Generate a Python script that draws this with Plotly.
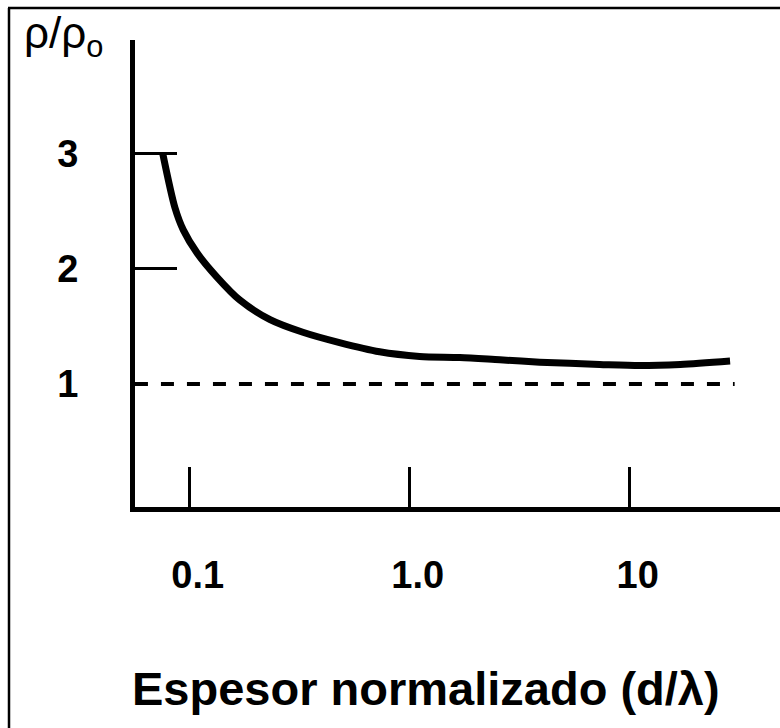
import plotly.graph_objects as go

# Normalised film thickness d/lambda and resistivity ratio rho/rho_o
thickness = [0.0755, 0.0858, 0.0935, 0.108, 0.133, 0.169, 0.232, 0.327,
             0.48, 0.73, 1.11, 1.69, 2.57, 3.9, 7.3, 11.1, 17.0, 28.6]
rho_ratio = [3.0, 2.53, 2.34, 2.14, 1.93, 1.73, 1.56, 1.45,
             1.36, 1.28, 1.24, 1.23, 1.21, 1.19, 1.17, 1.16, 1.17, 1.2]

# Bulk reference level
bulk_x = [0.0564, 30.0]
bulk_y = [1, 1]

x_tickvals = [0.1, 1, 10]
x_ticktext = ["0.1", "1.0", "10"]
y_tickvals = [1, 2, 3]
y_ticktext = ["1", "2", "3"]
y_tickmarks = [2, 3]

x_title = "Espesor normalizado (d/λ)"
y_title = "ρ/ρ<sub>o</sub>"

W, H = 780, 728
L, R, T, B = 135, 0, 40, 221
FONT = "Liberation Sans, Arial, sans-serif"

fig = go.Figure()
fig.add_trace(go.Scatter(
    x=bulk_x, y=bulk_y, mode="lines",
    line=dict(color="black", width=4, dash="13px,13px"),
    hoverinfo="skip", showlegend=False))
fig.add_trace(go.Scatter(
    x=thickness, y=rho_ratio, mode="lines",
    line=dict(color="black", width=7, shape="spline", smoothing=0.8),
    showlegend=False))

fig.update_xaxes(
    type="log", range=[-1.2485, 1.6833],
    tickvals=x_tickvals, ticktext=x_ticktext,
    ticks="inside", ticklen=40, tickwidth=3, tickcolor="black",
    showline=True, linecolor="black", linewidth=5,
    showgrid=False, zeroline=False,
    ticklabelstandoff=30, ticklabelshift=8,
    tickfont=dict(family=FONT, size=38, color="black", weight="bold"))
fig.update_yaxes(
    range=[-0.0696, 3.991],
    tickvals=y_tickvals, ticktext=y_ticktext, ticks="",
    minor=dict(tickmode="array", tickvals=y_tickmarks, ticks="inside",
               ticklen=42, tickwidth=3, tickcolor="black", showgrid=False),
    showline=True, linecolor="black", linewidth=5,
    showgrid=False, zeroline=False,
    ticklabelstandoff=44,
    tickfont=dict(family=FONT, size=38, color="black", weight="bold"))

pw = W - L - R
ph = H - T - B

def px_x(p):
    return (p - L) / pw

def px_y(p):
    return (H - B - p) / ph

fig.add_annotation(
    text=x_title, xref="paper", yref="paper",
    x=px_x(426), y=px_y(688), xanchor="center", yanchor="middle",
    showarrow=False,
    font=dict(family=FONT, size=47, color="black", weight="bold"))
fig.add_annotation(
    text=y_title, xref="paper", yref="paper",
    x=px_x(22), y=px_y(6), xanchor="left", yanchor="top",
    showarrow=False,
    font=dict(family=FONT, size=44, color="black"))

# Outer frame (top and left edges)
fig.add_shape(type="line", xref="paper", yref="paper",
              x0=px_x(9), y0=px_y(H + 5), x1=px_x(9), y1=px_y(8),
              line=dict(color="black", width=2.5))
fig.add_shape(type="line", xref="paper", yref="paper",
              x0=px_x(8), y0=px_y(8), x1=px_x(W + 5), y1=px_y(8),
              line=dict(color="black", width=2.5))

fig.update_layout(
    width=W, height=H,
    margin=dict(l=L, r=R, t=T, b=B, pad=0),
    paper_bgcolor="white", plot_bgcolor="white",
    showlegend=False)

fig.write_html("out.html")
